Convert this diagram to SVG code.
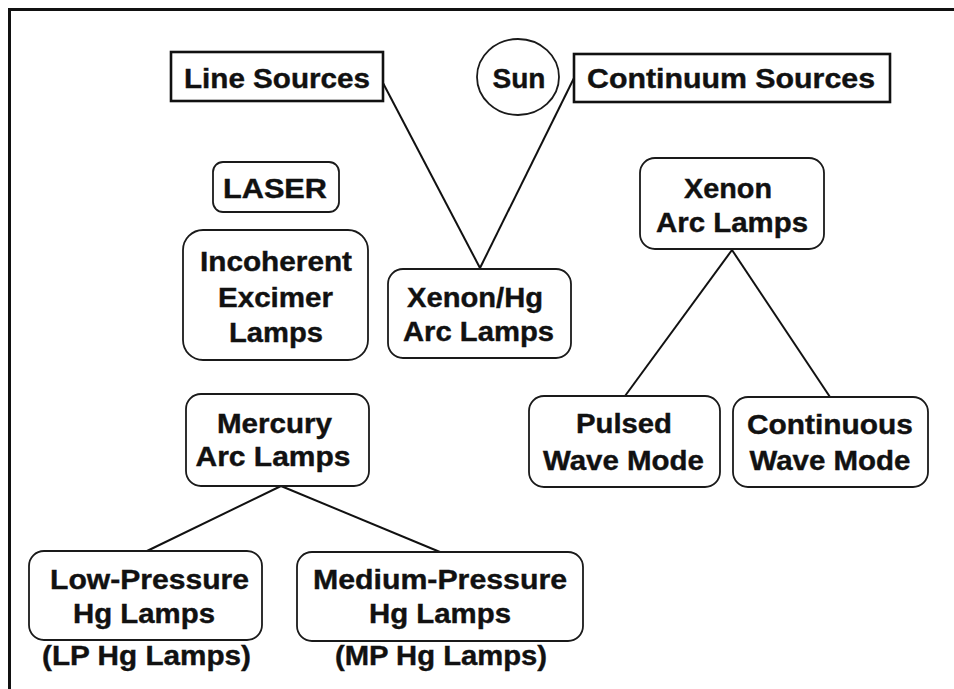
<svg xmlns="http://www.w3.org/2000/svg" width="954" height="689" viewBox="0 0 954 689">
  <style>
    .frame { fill: none; stroke: #111; stroke-width: 3; }
    .box { fill: none; stroke: #1a1a1a; stroke-width: 1.8; }
    .sharp { fill: none; stroke: #111; stroke-width: 2.6; }
    .link { fill: none; stroke: #111; stroke-width: 2; }
    text { font-family: "Liberation Sans", Arial, sans-serif; font-weight: bold; font-size: 27px; fill: #111; stroke: #111; stroke-width: 0.4; text-anchor: middle; }
  </style>
  <rect width="954" height="689" fill="#ffffff"/>
  <!-- page frame, open on the right and bottom -->
  <rect class="frame" x="9.5" y="9.5" width="960" height="700"/>

  <g id="connectors">
    <line class="link" x1="383" y1="83" x2="480" y2="268"/>
    <line class="link" x1="574" y1="78" x2="480" y2="268"/>
    <line class="link" x1="732" y1="250" x2="625" y2="396"/>
    <line class="link" x1="732" y1="250" x2="830" y2="397"/>
    <line class="link" x1="281" y1="486" x2="147" y2="551"/>
    <line class="link" x1="281" y1="486" x2="440" y2="552"/>
  </g>

  <g id="line-sources">
    <rect class="sharp" x="171" y="52" width="212" height="49"/>
    <text x="277" y="88" textLength="186" lengthAdjust="spacingAndGlyphs">Line Sources</text>
  </g>

  <g id="sun">
    <ellipse class="box" cx="518" cy="77" rx="41" ry="38"/>
    <text x="519" y="88" textLength="53" lengthAdjust="spacingAndGlyphs">Sun</text>
  </g>

  <g id="continuum-sources">
    <rect class="sharp" x="574" y="54" width="316" height="48"/>
    <text x="731" y="88" textLength="288" lengthAdjust="spacingAndGlyphs">Continuum Sources</text>
  </g>

  <g id="laser">
    <rect class="box" x="213" y="162" width="126" height="50" rx="10"/>
    <text x="275" y="198" textLength="104" lengthAdjust="spacingAndGlyphs">LASER</text>
  </g>

  <g id="excimer">
    <rect class="box" x="183" y="230" width="185" height="130" rx="20"/>
    <text x="276" y="271" textLength="152" lengthAdjust="spacingAndGlyphs">Incoherent</text>
    <text x="275.5" y="307" textLength="115" lengthAdjust="spacingAndGlyphs">Excimer</text>
    <text x="276" y="342" textLength="94" lengthAdjust="spacingAndGlyphs">Lamps</text>
  </g>

  <g id="xenon-hg">
    <rect class="box" x="388" y="269" width="183" height="89" rx="15"/>
    <text x="475" y="307" textLength="136" lengthAdjust="spacingAndGlyphs">Xenon/Hg</text>
    <text x="478.5" y="341" textLength="151" lengthAdjust="spacingAndGlyphs">Arc Lamps</text>
  </g>

  <g id="xenon-arc">
    <rect class="box" x="640" y="158" width="184" height="91" rx="15"/>
    <text x="728" y="198" textLength="88" lengthAdjust="spacingAndGlyphs">Xenon</text>
    <text x="732" y="232" textLength="152" lengthAdjust="spacingAndGlyphs">Arc Lamps</text>
  </g>

  <g id="mercury">
    <rect class="box" x="186" y="394" width="183" height="92" rx="15"/>
    <text x="274.5" y="433" textLength="115" lengthAdjust="spacingAndGlyphs">Mercury</text>
    <text x="273" y="466" textLength="155" lengthAdjust="spacingAndGlyphs">Arc Lamps</text>
  </g>

  <g id="pulsed">
    <rect class="box" x="529" y="396" width="191" height="91" rx="15"/>
    <text x="624" y="433" textLength="96" lengthAdjust="spacingAndGlyphs">Pulsed</text>
    <text x="623.5" y="470" textLength="161" lengthAdjust="spacingAndGlyphs">Wave Mode</text>
  </g>

  <g id="continuous">
    <rect class="box" x="733" y="397" width="195" height="90" rx="15"/>
    <text x="830" y="434" textLength="166" lengthAdjust="spacingAndGlyphs">Continuous</text>
    <text x="830" y="470" textLength="161" lengthAdjust="spacingAndGlyphs">Wave Mode</text>
  </g>

  <g id="low-pressure">
    <rect class="box" x="29" y="551" width="233" height="89" rx="15"/>
    <text x="149.5" y="589" textLength="199" lengthAdjust="spacingAndGlyphs">Low-Pressure</text>
    <text x="144" y="623" textLength="142" lengthAdjust="spacingAndGlyphs">Hg Lamps</text>
    <text x="146.5" y="665" textLength="209" lengthAdjust="spacingAndGlyphs">(LP Hg Lamps)</text>
  </g>

  <g id="medium-pressure">
    <rect class="box" x="297" y="552" width="286" height="89" rx="15"/>
    <text x="440" y="589" textLength="254" lengthAdjust="spacingAndGlyphs">Medium-Pressure</text>
    <text x="440" y="623" textLength="142" lengthAdjust="spacingAndGlyphs">Hg Lamps</text>
    <text x="441" y="665" textLength="212" lengthAdjust="spacingAndGlyphs">(MP Hg Lamps)</text>
  </g>
</svg>
